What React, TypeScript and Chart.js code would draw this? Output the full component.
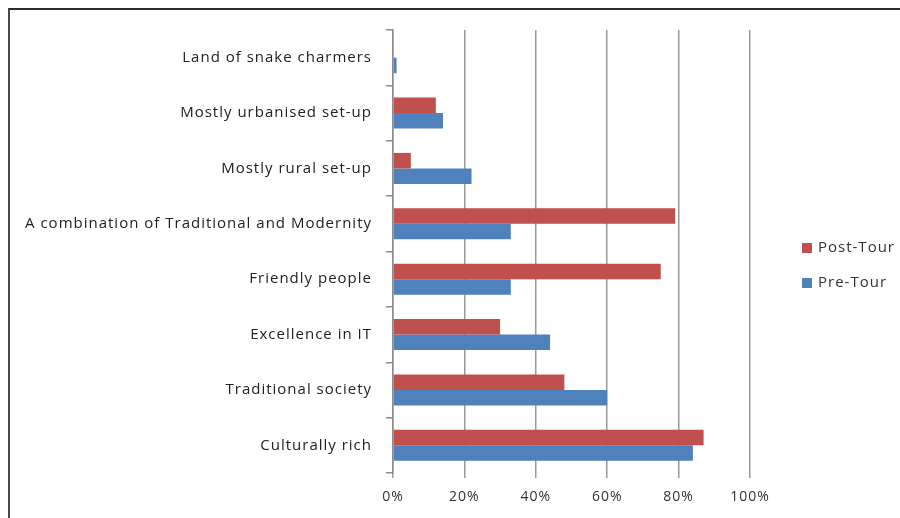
import React, { useEffect, useRef } from "react";
import { Chart, registerables } from "chart.js";

Chart.register(...registerables);

const categories = [
  "Land of snake charmers",
  "Mostly urbanised set-up",
  "Mostly rural set-up",
  "A combination of Traditional and Modernity",
  "Friendly people",
  "Excellence in IT",
  "Traditional society",
  "Culturally rich",
];
const postTour = [0, 12, 5, 79, 75, 30, 48, 87];
const preTour = [1, 14, 22, 33, 33, 44, 60, 84];
const xTicks = [0, 20, 40, 60, 80, 100];

const RED = "#C0504D";
const BLUE = "#4F81BD";
const FONT = "'Open Sans', 'Noto Sans', sans-serif";

const spacingPlugin = {
  id: "spacing",
  beforeDraw(chart: any) {
    chart.ctx.letterSpacing = "1px";
  },
  afterDraw(chart: any) {
    chart.ctx.letterSpacing = "0px";
  },
};

const legendPlugin = {
  id: "sideLegend",
  afterDraw(chart: any) {
    const ctx = chart.ctx;
    const area = chart.chartArea;
    const ds = chart.data.datasets;
    const cy = (area.top + area.bottom) / 2;
    ctx.save();
    ctx.letterSpacing = "1px";
    ctx.font = `15px ${FONT}`;
    ctx.textBaseline = "middle";
    ds.forEach((d: any, i: number) => {
      const y = cy - 3.5 + i * 35;
      const x = area.right + 52;
      ctx.fillStyle = d.backgroundColor;
      ctx.fillRect(x, y - 5, 10, 10);
      ctx.fillStyle = "#333333";
      ctx.textAlign = "left";
      ctx.fillText(d.label, x + 16, y);
    });
    ctx.restore();
  },
};

export default function App() {
  const ref = useRef<HTMLCanvasElement | null>(null);
  useEffect(() => {
    if (!ref.current) return;
    const chart = new Chart(ref.current, {
      type: "bar",
      data: {
        labels: categories,
        datasets: [
          { label: "Post-Tour", data: postTour, backgroundColor: RED, borderWidth: 0 },
          { label: "Pre-Tour", data: preTour, backgroundColor: BLUE, borderWidth: 0 },
        ],
      },
      options: {
        indexAxis: "y",
        animation: false,
        responsive: false,
        maintainAspectRatio: false,
        layout: { padding: { top: 20, right: 150, left: 0, bottom: 0 } },
        datasets: { bar: { categoryPercentage: 0.56, barPercentage: 1 } },
        plugins: { legend: { display: false }, tooltip: { enabled: false } },
        scales: {
          x: {
            min: 0,
            max: 100,
            afterBuildTicks: (scale: any) => {
              scale.ticks = xTicks.map((v) => ({ value: v }));
            },
            afterFit: (scale: any) => {
              scale.height = 45;
            },
            ticks: {
              callback: (v: any) => `${v}%`,
              font: { family: FONT, size: 14 },
              color: "#333333",
              padding: 11,
              maxRotation: 0,
            },
            grid: { color: "#9a9a9a", lineWidth: 1.5, tickLength: 5 },
            border: { display: false },
          },
          y: {
            afterFit: (scale: any) => {
              scale.width = 383;
              scale.paddingTop = 0;
              scale.paddingBottom = 0;
            },
            ticks: {
              font: { family: FONT, size: 15 },
              color: "#222222",
              padding: 14,
            },
            grid: { drawOnChartArea: false, color: "#8c8c8c", lineWidth: 1.5, tickLength: 7 },
            border: { display: true, color: "#8c8c8c", width: 1.5 },
          },
        },
      },
      plugins: [spacingPlugin, legendPlugin],
    });
    return () => chart.destroy();
  }, []);
  return (
    <div
      style={{
        position: "fixed",
        left: 8,
        top: 8,
        right: 0,
        bottom: 0,
        borderTop: "2px solid #2b2b2b",
        borderLeft: "2px solid #4a4a4a",
        background: "#fff",
      }}
    >
      <canvas ref={ref} width={890} height={508} style={{ display: "block" }} />
    </div>
  );
}
